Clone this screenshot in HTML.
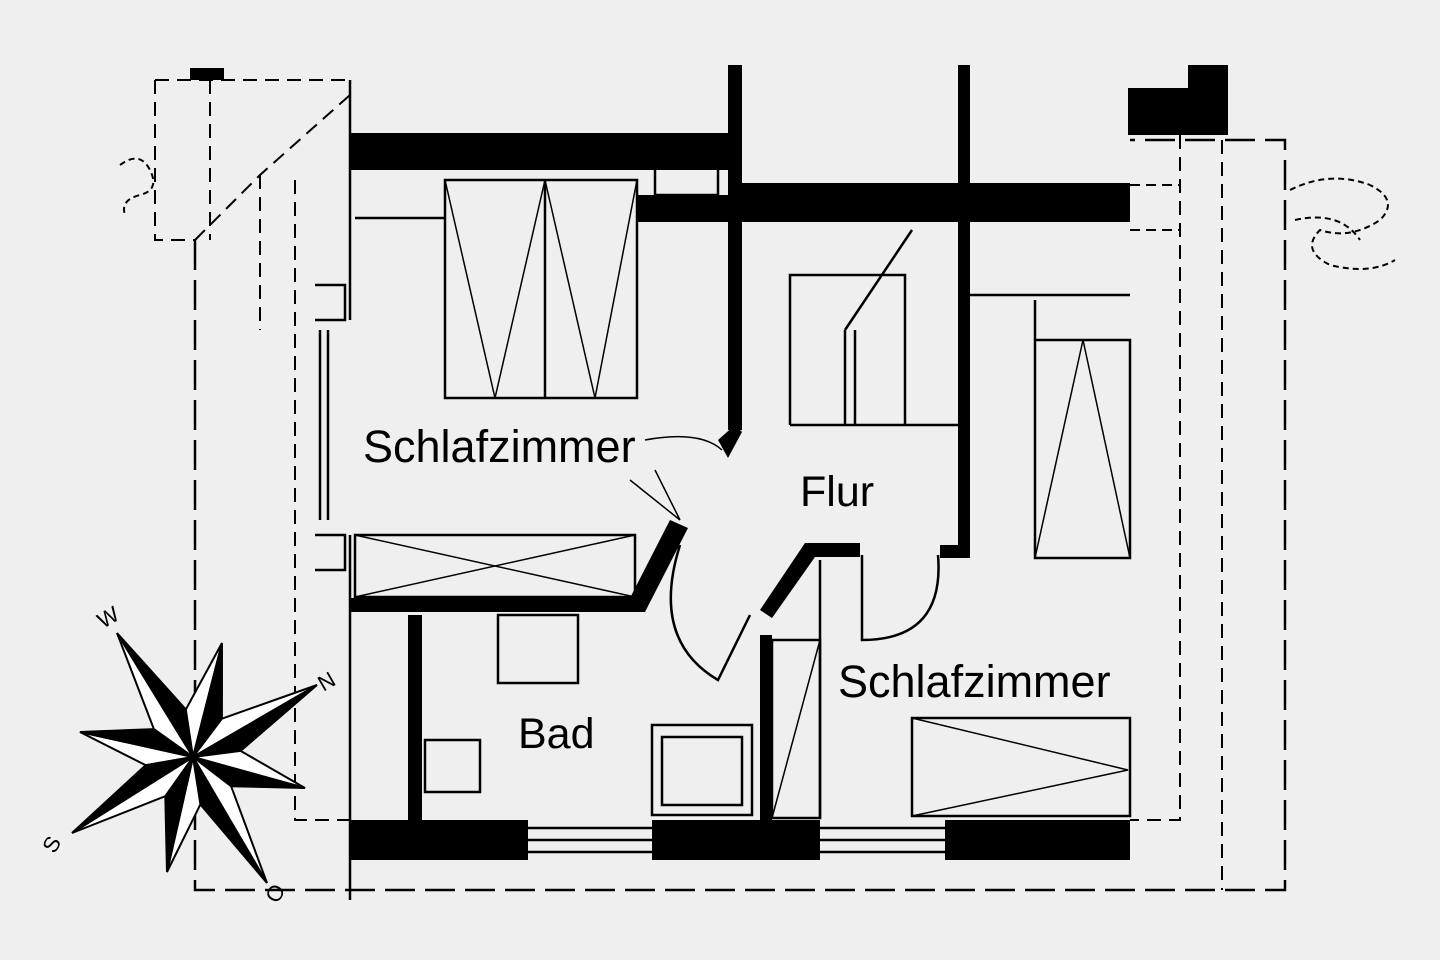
<!DOCTYPE html>
<html><head><meta charset="utf-8"><style>
html,body{margin:0;padding:0;background:#efefef;}
svg{display:block}
text{font-family:"Liberation Sans",sans-serif;fill:#000}
</style></head><body>
<svg width="1440" height="960" viewBox="0 0 1440 960" xmlns="http://www.w3.org/2000/svg">
<rect width="1440" height="960" fill="#efefef"/>
<g fill="none" stroke="#000" stroke-width="2.5">
<path d="M195 240 V890 H1285 V140 H1130" stroke-dasharray="30 10"/>
<path d="M155 80 H350 M155 80 V240 H195 M210 80 V240" stroke-dasharray="14 8" stroke-width="2"/>
<path d="M195 240 L260 175 L350 95 M260 175 V330" stroke-dasharray="14 8" stroke-width="2"/>
<path d="M295 180 V820 H350" stroke-dasharray="14 8" stroke-width="2"/>
<path d="M1180 135 V820 H1130 M1222 140 V890" stroke-dasharray="14 8" stroke-width="2"/>
<path d="M1130 185 H1180 M1130 230 H1180" stroke-dasharray="10 6" stroke-width="2"/>
<path d="M350 80 V320 M350 535 V900 M320 330 V520 M328 330 V520"/>
<path d="M315 285 H345 V320 H315 M315 535 H345 V570 H315"/>
<rect x="445" y="180" width="192" height="218"/>
<path d="M445 180 L495 398 L545 180 L595 398 L637 180" stroke-width="1.5"/>
<path d="M545 180 V398 M355 218 H445"/>
<rect x="355" y="535" width="280" height="62"/>
<path d="M355 535 L635 597 M355 597 L635 535" stroke-width="1.5"/>
<rect x="655" y="165" width="63" height="30"/>
<path d="M790 425 V275 H905 V425 M790 425 H958 M845 330 L912 230 M845 330 V425 M855 330 V425"/>
<path d="M970 295 H1130"/>
<rect x="1035" y="340" width="95" height="218"/>
<path d="M1035 558 L1083 340 L1130 558" stroke-width="1.5"/>
<rect x="912" y="718" width="218" height="98"/>
<path d="M912 718 L1128 770 L912 816" stroke-width="1.5"/>
<path d="M1035 300 V340"/>
<path d="M938 555 Q945 640 862 640 V555"/>
<path d="M680 545 Q650 640 718 680 L750 615"/>
<path d="M655 470 L680 520 M630 480 L680 520" stroke-width="1.5"/>
<path d="M645 440 Q700 430 722 450" stroke-width="1.5"/>
<rect x="498" y="615" width="80" height="68"/>
<rect x="425" y="740" width="55" height="52"/>
<rect x="652" y="725" width="100" height="90"/>
<rect x="662" y="737" width="80" height="68"/>
<rect x="772" y="640" width="48" height="178"/>
<path d="M772 818 L820 640" stroke-width="1.5"/>
<path d="M820 560 V818"/>
<path d="M528 828 H652 M528 840 H652 M528 852 H652 M820 828 H945 M820 840 H945 M820 852 H945"/>
</g>
<g fill="#000">
<rect x="190" y="68" width="34" height="12"/>
<rect x="350" y="133" width="385" height="37"/>
<rect x="728" y="65" width="14" height="365"/>
<rect x="638" y="195" width="97" height="27"/>
<rect x="735" y="183" width="395" height="39"/>
<rect x="958" y="65" width="12" height="493"/>
<rect x="940" y="545" width="30" height="13"/>
<rect x="1128" y="88" width="100" height="47"/>
<rect x="1188" y="65" width="40" height="30"/>
<rect x="350" y="820" width="178" height="40"/>
<rect x="652" y="820" width="168" height="40"/>
<rect x="945" y="820" width="185" height="40"/>
<rect x="408" y="615" width="14" height="205"/>
<rect x="760" y="635" width="12" height="185"/>
<polygon points="350,598 630,598 670,520 688,528 645,612 350,612"/>
<polygon points="760,610 805,543 860,543 860,557 815,557 772,618"/>
<polygon points="718,440 735,425 742,432 728,458"/>
</g>
<text x="363" y="462" font-size="45">Schlafzimmer</text>
<text x="800" y="506" font-size="43">Flur</text>
<text x="518" y="748" font-size="43">Bad</text>
<text x="838" y="697" font-size="45">Schlafzimmer</text>
<g id="rose" stroke="#000" stroke-width="2" stroke-linejoin="miter"></g>
<text x="98" y="625" font-size="22" transform="rotate(-30 108 618)">W</text>
<text x="318" y="688" font-size="22" transform="rotate(-30 328 680)">N</text>
<text x="45" y="852" font-size="22" transform="rotate(-60 52 845)">S</text>
<text x="268" y="902" font-size="22" transform="rotate(-60 275 895)">O</text>
<g fill="none" stroke="#000" stroke-width="2" stroke-dasharray="6 4">
<path d="M120 165 Q140 150 150 170 Q160 190 140 195 Q120 200 125 215"/>
<path d="M1290 190 Q1330 170 1370 185 Q1400 200 1380 220 Q1350 240 1320 230 Q1300 250 1330 265 Q1370 275 1395 260"/>
<path d="M1295 220 Q1340 210 1360 240"/>
</g>
</svg>
<script>
(function(){
var cx=193,cy=757,R=48;
var tips=[[117,633],[222,643],[317,685],[305,788],[267,883],[167,872],[72,833],[80,732]];
var arms=tips.map(function(t){return {t:t,a:Math.atan2(t[1]-cy,t[0]-cx)};});
arms.sort(function(p,q){return p.a-q.a;});
var n=arms.length,g=document.getElementById('rose'),ns='http://www.w3.org/2000/svg';
function inner(a1,a2){var d=a2-a1;if(d<0)d+=2*Math.PI;var m=a1+d/2;return [cx+R*Math.cos(m),cy+R*Math.sin(m)];}
var out=[];
for(var i=0;i<n;i++){
 var A=arms[i],P=arms[(i+n-1)%n],N=arms[(i+1)%n];
 var pi=inner(P.a,A.a),ni=inner(A.a,N.a);
 out.push([[cx,cy],pi,A.t,'#fff']);
 out.push([[cx,cy],A.t,ni,'#000']);
}
out.forEach(function(o){var p=document.createElementNS(ns,'polygon');
 p.setAttribute('points',o.slice(0,3).map(function(q){return q[0].toFixed(1)+','+q[1].toFixed(1);}).join(' '));
 p.setAttribute('fill',o[3]);g.appendChild(p);});
})();
</script>
</body></html>
